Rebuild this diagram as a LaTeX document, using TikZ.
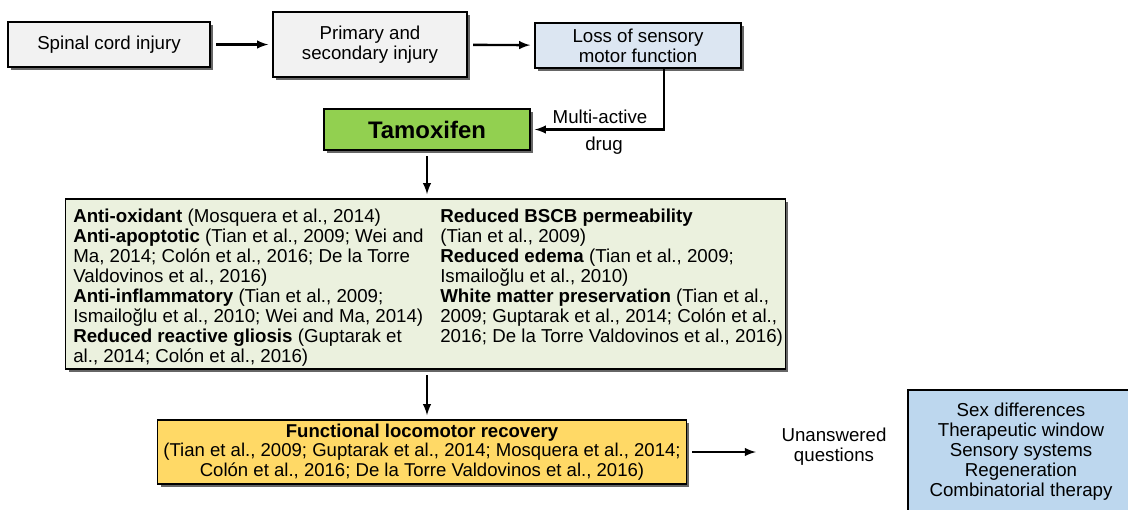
\documentclass[tikz,border=0pt]{standalone}
\usepackage{fontspec}
\setmainfont{Liberation Sans}
\usepackage{tikz}
\usetikzlibrary{calc,shapes,arrows,shadows}

\definecolor{injgray}{HTML}{F2F2F2}
\definecolor{lossblue}{HTML}{DCE6F2}
\definecolor{tamgreen}{HTML}{92D050}
\definecolor{effgreen}{HTML}{EBF1DE}
\definecolor{recyellow}{HTML}{FFD966}
\definecolor{qblue}{HTML}{BDD7EE}

\tikzset{
    box/.style={draw, line width=0.8pt, align=center, inner sep=2pt,
        font=\fontsize{13.3}{14.2}\selectfont,
        drop shadow={shadow xshift=2pt, shadow yshift=-2pt, opacity=1, fill=black!60}},
    txt/.style={align=left, inner sep=0pt, font=\fontsize{13.3}{14.2}\selectfont},
    link/.style={-latex, line width=1.7pt, shorten <=4pt, shorten >=3pt}
}

\begin{document}
\begin{tikzpicture}[x=0.025cm, y=-0.025cm]
        \useasboundingbox (0,0) rectangle (1128,509);
        \node[box, fill=injgray, minimum width=5.05cm, minimum height=1.125cm] (spinal) at (109,44.5) {Spinal cord injury};
        \node[box, fill=injgray, minimum width=4.85cm, minimum height=1.625cm] (primary) at (370,44.5) {Primary and\\secondary injury};
        \node[box, fill=lossblue, minimum width=5.15cm, minimum height=1.125cm] (loss) at (638,45.5) {Loss of sensory\\motor function};
        \node[box, fill=tamgreen, minimum width=5.15cm, minimum height=1.025cm, font=\fontsize{17}{19}\selectfont\bfseries] (tamox) at (427,129.5) {Tamoxifen};
        \node[box, fill=effgreen, minimum width=17.975cm, minimum height=4.25cm] (effects) at (425.5,284) {};
        \node[box, fill=recyellow, minimum width=13.2cm, minimum height=1.6cm, font=\fontsize{13.2}{13.9}\selectfont] (recovery) at (422,452)
            {\textbf{Functional locomotor recovery}\\(Tian et al., 2009; Guptarak et al., 2014; Mosquera et al., 2014;\\Colón et al., 2016; De la Torre Valdovinos et al., 2016)};
        \node[box, fill=qblue, minimum width=5.65cm, minimum height=3.1cm] (questions) at (1021,452)
            {Sex differences\\Therapeutic window\\Sensory systems\\Regeneration\\Combinatorial therapy};

        \node[txt, anchor=north west] (effleft) at (73,209)
            {\textbf{Anti-oxidant} (Mosquera et al., 2014)\\
            \textbf{Anti-apoptotic} (Tian et al., 2009; Wei and\\
            Ma, 2014; Colón et al., 2016; De la Torre\\
            Valdovinos et al., 2016)\\
            \textbf{Anti-inflammatory} (Tian et al., 2009;\\
            Ismailoğlu et al., 2010; Wei and Ma, 2014)\\
            \textbf{Reduced reactive gliosis} (Guptarak et\\
            al., 2014; Colón et al., 2016)};
        \node[txt, anchor=north west] (effright) at (440,209)
            {\textbf{Reduced BSCB permeability}\\
            (Tian et al., 2009)\\
            \textbf{Reduced edema} (Tian et al., 2009;\\
            Ismailoğlu et al., 2010)\\
            \textbf{White matter preservation} (Tian et al.,\\
            2009; Guptarak et al., 2014; Colón et al.,\\
            2016; De la Torre Valdovinos et al., 2016)};

        \node[txt, align=center] (multi) at (600,117) {Multi-active};
        \node[txt, align=center] (drug) at (604,146) {drug};
        \node[txt, align=center] (unans) at (834,447) {Unanswered\\questions};

        \draw[link] (spinal) -- (primary);
        \draw[link] (primary) -- (loss);
        \draw[link, shorten <=0pt] ($(loss.south)+(26,0)$) |- (tamox.east);
        \draw[link] (tamox) -- (tamox |- effects.north);
        \draw[link] (effects.south -| tamox) -- (recovery.north -| tamox);
        \draw[link, shorten >=18pt] (recovery) -- (recovery -| unans.west);
    \end{tikzpicture}
\end{document}
